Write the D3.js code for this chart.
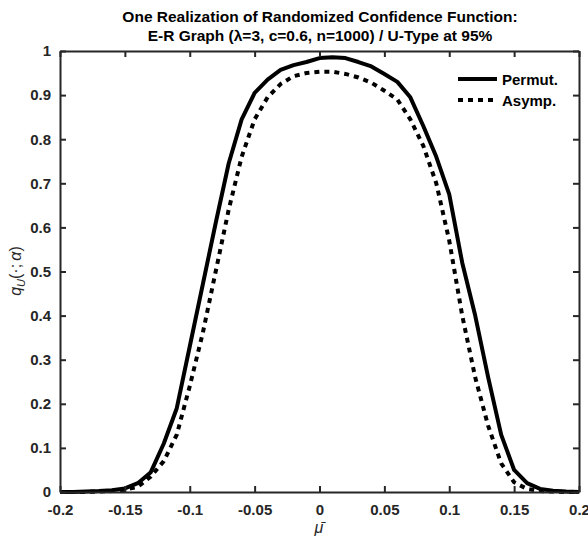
<!DOCTYPE html>
<html><head><meta charset="utf-8">
<script src="https://cdn.jsdelivr.net/npm/d3@7"></script>
<style>
body{margin:0;background:#fff;}
svg{display:block;}
text{font-family:"Liberation Sans",Arial,Helvetica,sans-serif;}
</style></head>
<body><svg id="c" width="588" height="539"></svg>
<script>
const muGrid = [-0.20,-0.19,-0.18,-0.17,-0.16,-0.15,-0.14,-0.13,-0.12,-0.11,-0.10,-0.09,-0.08,-0.07,-0.06,-0.05,-0.04,-0.03,-0.02,-0.01,0.00,0.01,0.02,0.03,0.04,0.05,0.06,0.07,0.08,0.09,0.10,0.11,0.12,0.13,0.14,0.15,0.16,0.17,0.18,0.19,0.20];
const permut = [0,0,0.001,0.002,0.004,0.008,0.02,0.045,0.11,0.19,0.33,0.47,0.61,0.745,0.845,0.905,0.935,0.957,0.968,0.975,0.984,0.986,0.984,0.975,0.965,0.948,0.93,0.895,0.83,0.76,0.675,0.52,0.40,0.26,0.13,0.05,0.02,0.007,0.003,0.001,0];
const asymp = [0,0,0,0.001,0.002,0.005,0.012,0.035,0.07,0.13,0.24,0.36,0.50,0.64,0.76,0.845,0.895,0.925,0.943,0.95,0.953,0.953,0.948,0.94,0.928,0.91,0.89,0.845,0.785,0.70,0.57,0.40,0.26,0.15,0.065,0.022,0.007,0.002,0.001,0,0];
const xTicks = [-0.2,-0.15,-0.1,-0.05,0,0.05,0.1,0.15,0.2];
const yTicks = [0,0.1,0.2,0.3,0.4,0.5,0.6,0.7,0.8,0.9,1];
const seriesNames = ["Permut.","Asymp."];
const titleLines = ["One Realization of Randomized Confidence Function:","E-R Graph (\u03bb=3, c=0.6, n=1000) / U-Type at 95%"];

(function(){
const svg = d3.select("#c");
const L=60,R=579,T=51,B=492;
const x = d3.scaleLinear().domain([-0.2,0.2]).range([L,R]);
const y = d3.scaleLinear().domain([0,1]).range([B,T]);
const axCol="#262626";
const fmt = d => d===0?"0":String(d);

// curves
const line = d3.line().x((d,i)=>x(muGrid[i])).y(d=>y(d));
const g = svg.append("g");
g.append("path").datum(asymp).attr("d",line).attr("fill","none").attr("stroke","#000")
 .attr("stroke-width",4).attr("stroke-dasharray","5,5");
g.append("path").datum(permut).attr("d",line).attr("fill","none").attr("stroke","#000")
 .attr("stroke-width",4).attr("stroke-linejoin","round");

// axes (box with inward ticks)
const ax = svg.append("g");
ax.append("g").attr("transform",`translate(0,${B})`)
 .call(d3.axisBottom(x).tickValues(xTicks).tickSizeInner(-6).tickSizeOuter(0).tickPadding(12).tickFormat(fmt));
ax.append("g").attr("transform",`translate(0,${T})`)
 .call(d3.axisTop(x).tickValues(xTicks).tickSizeInner(-6).tickSizeOuter(0).tickFormat(""));
ax.append("g").attr("transform",`translate(${L},0)`)
 .call(d3.axisLeft(y).tickValues(yTicks).tickSizeInner(-6).tickSizeOuter(0).tickPadding(9).tickFormat(fmt));
ax.append("g").attr("transform",`translate(${R},0)`)
 .call(d3.axisRight(y).tickValues(yTicks).tickSizeInner(-6).tickSizeOuter(0).tickFormat(""));
ax.selectAll(".domain").attr("stroke",axCol).attr("stroke-width",2);
ax.selectAll(".tick line").attr("stroke",axCol).attr("stroke-width",2);
ax.selectAll(".tick text").attr("fill",axCol).attr("font-size",15).attr("font-weight","bold")
 .attr("font-family","Liberation Sans, Arial, sans-serif");

// title
svg.append("g").selectAll("text").data(titleLines).join("text")
 .attr("x",320).attr("y",(d,i)=>22+i*19).attr("text-anchor","middle")
 .attr("font-size",15.5).attr("font-weight","bold").attr("fill","#000").text(d=>d);

// x label
svg.append("text").attr("x",319).attr("y",533).attr("text-anchor","middle")
 .attr("font-family","Liberation Serif, DejaVu Serif, serif").attr("font-style","italic")
 .attr("font-size",16).attr("fill",axCol).text("\u03bc\u0304");

// y label
const yl = svg.append("text").attr("transform","translate(21,271) rotate(-90)").attr("text-anchor","middle")
 .attr("font-family","Liberation Serif, DejaVu Serif, serif").attr("font-style","italic")
 .attr("font-size",16).attr("fill",axCol);
yl.append("tspan").text("q");
yl.append("tspan").attr("font-size",11).attr("dy",4).text("U");
yl.append("tspan").attr("dy",-4).attr("font-style","normal").text("(\u00b7;\u2009");
yl.append("tspan").text("\u03b1");
yl.append("tspan").attr("font-style","normal").text(")");

// legend
const leg = svg.append("g");
const legY=[79,100];
seriesNames.forEach((n,i)=>{
  leg.append("line").attr("x1",458).attr("x2",497).attr("y1",legY[i]).attr("y2",legY[i])
   .attr("stroke","#000").attr("stroke-width",4).attr("stroke-dasharray",i===0?null:"5,5");
  leg.append("text").attr("x",502).attr("y",legY[i]+5.5).attr("font-size",15).attr("font-weight","bold")
   .attr("fill","#000").text(n);
});
})();
</script></body></html>
